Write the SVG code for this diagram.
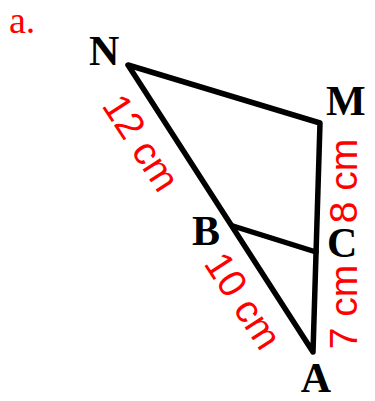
<svg xmlns="http://www.w3.org/2000/svg" width="375" height="401" viewBox="0 0 375 401">
<style>
.seg{fill:none;stroke:#000;stroke-width:5.5;stroke-linejoin:round;stroke-linecap:round}
.pt{font-family:"Liberation Serif",serif;font-weight:bold;font-size:42px;fill:#000}
.len{font-family:"Liberation Sans",sans-serif;font-size:39px;fill:#ff0000;text-anchor:middle}
.tag{font-family:"Liberation Serif",serif;font-size:38px;fill:#ff0000}
</style>
<rect width="375" height="401" fill="#fff"/>
<text class="tag" x="9" y="33">a.</text>
<g id="connectors">
<path class="seg" d="M128,65 L320,123 L313,352 Z"/>
<path class="seg" d="M233,226 L316,252"/>
</g>
<g id="N"><text class="pt" x="89" y="65">N</text></g>
<g id="M"><text class="pt" x="326" y="115">M</text></g>
<g id="B"><text class="pt" x="192" y="245">B</text></g>
<g id="C"><text class="pt" x="327" y="257">C</text></g>
<g id="A"><text class="pt" x="316" y="392" text-anchor="middle">A</text></g>
<g id="labels">
<text class="len" transform="translate(130,150) rotate(57)">12 cm</text>
<text class="len" transform="translate(232,308) rotate(57)">10 cm</text>
<text class="len" transform="translate(357,181) rotate(-90)">8 cm</text>
<text class="len" transform="translate(357,307) rotate(-90)">7 cm</text>
</g>
</svg>
